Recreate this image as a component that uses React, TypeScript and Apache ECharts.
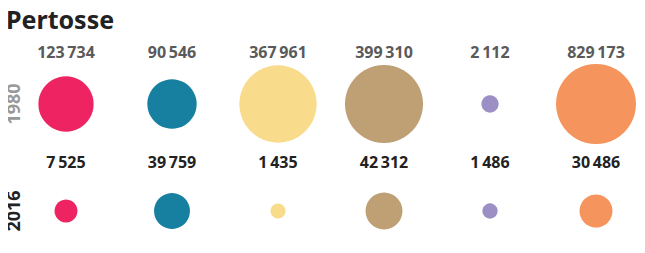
import React, { useEffect, useRef } from "react";
import * as echarts from "echarts";

const title = "Pertosse";
const categories = ["A", "B", "C", "D", "E", "F"];
const years = ["2016", "1980"];
const values1980 = [123734, 90546, 367961, 399310, 2112, 829173];
const values2016 = [7525, 39759, 1435, 42312, 1486, 30486];
const colors = ["#EE2462", "#177FA0", "#F8DC8C", "#BFA075", "#9B8FC6", "#F5945C"];

const sizeStops: [number, number][] = [
  [3.15, 15], [3.3, 17], [3.88, 23], [4.55, 34], [5.0, 51], [5.58, 78], [5.92, 80],
];
function sizeOf(v: number): number {
  const l = Math.log10(v);
  if (l <= sizeStops[0][0]) return sizeStops[0][1];
  for (let i = 1; i < sizeStops.length; i++) {
    const [x1, y1] = sizeStops[i];
    const [x0, y0] = sizeStops[i - 1];
    if (l <= x1) return y0 + ((l - x0) / (x1 - x0)) * (y1 - y0);
  }
  return sizeStops[sizeStops.length - 1][1];
}
const fmt = (v: number) => String(v).replace(/\B(?=(\d{3})+(?!\d))/g, "\u2006");

const FONT = "Noto Sans";

export default function App() {
  const ref = useRef<HTMLDivElement>(null);
  useEffect(() => {
    if (!ref.current) return;
    const chart = echarts.init(ref.current, null, { renderer: "svg" });
    const mk = (vals: number[], year: string, labelColor: string, off: number) => ({
      type: "scatter",
      name: year,
      data: vals.map((v, i) => ({
        value: [categories[i], year, v],
        itemStyle: { color: colors[i], opacity: 1 },
      })),
      symbolSize: (d: any) => sizeOf(d[2]),
      label: {
        show: true,
        position: "inside",
        offset: [0, off],
        formatter: (p: any) => fmt(p.value[2]),
        color: labelColor,
        fontFamily: FONT,
        fontWeight: "bold",
        fontSize: 16,
      },
      emphasis: { disabled: true },
    });
    chart.setOption({
      animation: false,
      title: {
        text: title,
        left: 1,
        top: 1,
        textStyle: { fontFamily: FONT, fontWeight: "bold", fontSize: 25, color: "#222" },
      },
      grid: { left: 66, right: 49, top: 104, bottom: 42 },
      xAxis: {
        type: "category",
        data: categories,
        boundaryGap: false,
        show: false,
      },
      yAxis: {
        type: "category",
        data: years,
        boundaryGap: false,
        axisLine: { show: false },
        axisTick: { show: false },
        splitLine: { show: false },
        axisLabel: {
          rotate: 90,
          margin: 44,
          fontFamily: FONT,
          fontWeight: "bold",
          fontSize: 18,
          color: (v: string) => (v === "1980" ? "#999" : "#222"),
        },
      },
      series: [
        mk(values1980, "1980", "#5a5a5a", -52),
        mk(values2016, "2016", "#222", -49),
      ],
    });
    return () => chart.dispose();
  }, []);
  return <div ref={ref} style={{ width: 645, height: 253, margin: -8 }} />;
}
